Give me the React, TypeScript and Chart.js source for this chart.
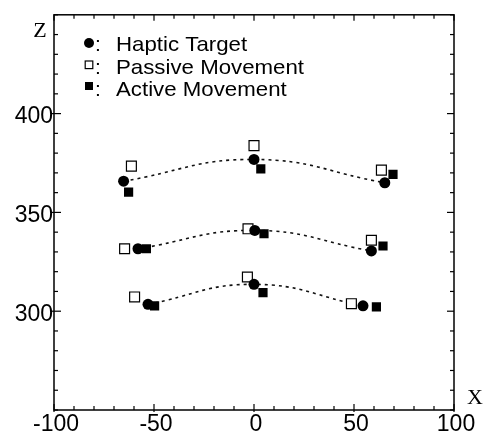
import React, { useEffect, useRef } from 'react';
import { Chart, registerables } from 'chart.js';

Chart.register(...registerables);

// ---- data ----
const xRange = [-100, 100];
const zRange = [250, 450];
const xTickLabels = [-100, -50, 0, 50, 100];
const zTickLabels = [300, 350, 400];
const axisNames = ['X', 'Z'];
const legendLabels = ['Haptic Target', 'Passive Movement', 'Active Movement'];

// three rows (top, middle, bottom), each: left, centre, right
const hapticX = [-65.2, 0, 65.4, -58, 0.4, 58.7, -53, 0, 54.5];
const hapticZ = [365.8, 376.8, 365, 331.6, 340.9, 330.5, 303.5, 313.6, 302.7];
const passiveX = [-61.3, 0, 63.7, -64.7, -3, 58.7, -59.7, -3.3, 48.7];
const passiveZ = [373.4, 383.8, 371.4, 331.6, 341.7, 335.9, 307.2, 317.3, 303.8];
const activeX = [-62.7, 3.4, 69.5, -53.8, 5, 64.5, -49.7, 4.5, 61.2];
const activeZ = [360.3, 372, 369.2, 331.6, 339.2, 333, 302.7, 309.4, 302.2];
const rows = [
  [0, 1, 2],
  [3, 4, 5],
  [6, 7, 8],
];

const SANS = '"Liberation Sans", Arial, Helvetica, sans-serif';
const SERIF = '"Liberation Serif", "Times New Roman", serif';

const toPoints = (xs: number[], zs: number[]) => xs.map((x, i) => ({ x, y: zs[i] }));

const framePlugin = {
  id: 'frameTicksLegend',
  afterDraw(chart: any) {
    const { ctx, chartArea: a, scales } = chart;
    const xs = scales.x;
    const ys = scales.y;
    const line = (x1: number, y1: number, x2: number, y2: number) => {
      ctx.beginPath();
      ctx.moveTo(x1, y1);
      ctx.lineTo(x2, y2);
      ctx.stroke();
    };
    ctx.save();
    ctx.strokeStyle = '#000';
    ctx.lineWidth = 1.5;
    ctx.strokeRect(a.left, a.top, a.right - a.left, a.bottom - a.top);
    ctx.lineWidth = 1.2;
    xs.ticks.forEach((t: any) => {
      const px = xs.getPixelForValue(t.value);
      const major = xTickLabels.includes(t.value);
      const len = major ? 6 : 4;
      line(px, a.bottom + (major ? 2 : 0), px, a.bottom - len);
      line(px, a.top, px, a.top + len);
    });
    ys.ticks.forEach((t: any) => {
      const py = ys.getPixelForValue(t.value);
      const major = zTickLabels.includes(t.value);
      const len = major ? 7 : 4;
      line(a.left - (major ? 2 : 0), py, a.left + len, py);
      line(a.right, py, a.right - len, py);
    });

    // axis names
    ctx.fillStyle = '#000';
    ctx.font = `22px ${SERIF}`;
    ctx.textAlign = 'center';
    ctx.textBaseline = 'alphabetic';
    ctx.fillText(axisNames[1], 40, 37);
    ctx.fillText(axisNames[0], 475, 404);

    // legend
    const symX = 89;
    const baselines = [51, 73.5, 96];
    // haptic circle
    ctx.beginPath();
    ctx.arc(symX, baselines[0] - 8, 5, 0, Math.PI * 2);
    ctx.fill();
    // passive open square
    ctx.fillStyle = '#fff';
    ctx.lineWidth = 1.2;
    ctx.fillRect(symX - 3.8, baselines[1] - 12.5, 7.6, 7.6);
    ctx.strokeRect(symX - 3.8, baselines[1] - 12.5, 7.6, 7.6);
    ctx.fillStyle = '#000';
    // active filled square
    ctx.fillRect(symX - 4, baselines[2] - 14, 8, 8);
    ctx.font = `21px ${SANS}`;
    ctx.textAlign = 'left';
    legendLabels.forEach((lab, i) => {
      ctx.fillText(':', 95, baselines[i]);
      ctx.save();
      ctx.translate(116, baselines[i]);
      ctx.scale(1.06, 1);
      ctx.fillText(lab, 0, 0);
      ctx.restore();
    });
    ctx.restore();
  },
};

export default function App() {
  const ref = useRef<HTMLCanvasElement | null>(null);
  useEffect(() => {
    if (!ref.current) return;
    const curveSets = rows.map((r) => ({
      type: 'line' as const,
      data: r.map((i) => ({ x: hapticX[i], y: hapticZ[i] })),
      showLine: true,
      borderColor: '#111',
      borderWidth: 1.6,
      borderDash: [3, 4],
      tension: 0.45,
      pointRadius: 0,
      fill: false,
      order: 5,
    }));
    const chart = new Chart(ref.current, {
      type: 'scatter',
      data: {
        datasets: [
          ...curveSets,
          {
            label: legendLabels[1],
            data: toPoints(passiveX, passiveZ),
            pointStyle: 'rect',
            pointRadius: 7,
            backgroundColor: '#fff',
            borderColor: '#000',
            borderWidth: 1.2,
            order: 3,
          },
          {
            label: legendLabels[2],
            data: toPoints(activeX, activeZ),
            pointStyle: 'rect',
            pointRadius: 6.5,
            backgroundColor: '#000',
            borderColor: '#000',
            borderWidth: 0,
            order: 2,
          },
          {
            label: legendLabels[0],
            data: toPoints(hapticX, hapticZ),
            pointStyle: 'circle',
            pointRadius: 5.5,
            backgroundColor: '#000',
            borderColor: '#000',
            borderWidth: 0,
            order: 1,
          },
        ] as any,
      },
      options: {
        responsive: false,
        animation: false,
        devicePixelRatio: 1,
        layout: { padding: { top: 11, right: 31, left: 0, bottom: 0 } },
        plugins: { legend: { display: false }, tooltip: { enabled: false } },
        scales: {
          x: {
            type: 'linear',
            min: xRange[0],
            max: xRange[1],
            grid: { display: false, drawTicks: false },
            border: { display: false },
            afterFit: (s: any) => {
              s.height = 31;
            },
            ticks: {
              stepSize: 10,
              autoSkip: false,
              maxRotation: 0,
              padding: 1,
              labelOffset: 2,
              color: '#000',
              font: { family: SANS, size: 23 },
              callback: (v: any) => (xTickLabels.includes(v) ? String(v) : ''),
            },
          },
          y: {
            type: 'linear',
            min: zRange[0],
            max: zRange[1],
            grid: { display: false, drawTicks: false },
            border: { display: false },
            afterFit: (s: any) => {
              s.width = 54;
            },
            ticks: {
              stepSize: 10,
              autoSkip: false,
              padding: 1,
              labelOffset: 3,
              color: '#000',
              font: { family: SANS, size: 23 },
              callback: (v: any) => (zTickLabels.includes(v) ? String(v) : ''),
            },
          },
        },
      },
      plugins: [framePlugin],
    });
    return () => chart.destroy();
  }, []);
  return (
    <div style={{ position: 'absolute', left: 0, top: 0, width: 485, height: 441, background: '#fff' }}>
      <canvas ref={ref} width={485} height={441} style={{ display: 'block' }} />
    </div>
  );
}
